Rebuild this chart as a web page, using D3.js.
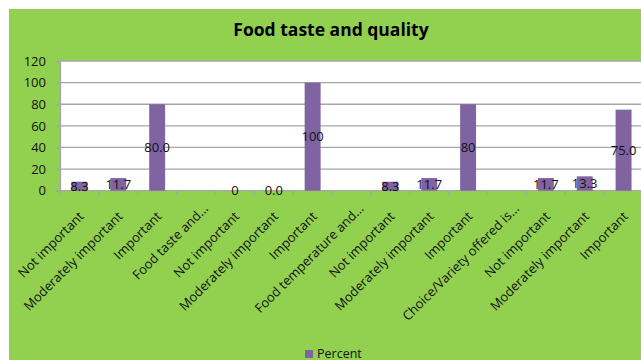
<!DOCTYPE html>
<html>
<head>
<meta charset="utf-8">
<script src="https://cdn.jsdelivr.net/npm/d3@7"></script>
<style>
  html, body { margin: 0; padding: 0; background: #fff; }
  svg { display: block; }
</style>
</head>
<body>
<div id="chart"></div>
<script>
// Categories along the x axis (as shown, truncated with "...")
const categories = [
    'Not important', 'Moderately important', 'Important', 'Food taste and...',
    'Not important', 'Moderately important', 'Important', 'Food temperature and...',
    'Not important', 'Moderately important', 'Important', 'Choice/Variety offered is...',
    'Not important', 'Moderately important', 'Important'
];
// Percent values (null = header row, no bar)
const percent = [8.3, 11.7, 80.0, null, 0, 0.0, 100, null, 8.3, 11.7, 80, null, 11.7, 13.3, 75.0];
// Data labels as printed on the chart
const valueLabels = ['8.3', '11.7', '80.0', '', '0', '0.0', '100', '', '8.3', '11.7', '80', '', '11.7', '13.3', '75.0'];
const yTicks = [0, 20, 40, 60, 80, 100, 120];
const title = 'Food taste and quality';
const seriesName = 'Percent';

const width = 641;
const height = 360;
const plot = { left: 60, right: 643, top: 61, bottom: 190.7 };
const font = '"Open Sans", "Liberation Sans", Arial, sans-serif';
const barColor = '#8064A2';
const gridColor = '#A6A6A6';

const svg = d3.select('#chart')
    .append('svg')
    .attr('width', width)
    .attr('height', height);

// Chart background
svg.append('rect')
    .attr('x', 9)
    .attr('y', 9)
    .attr('width', width)
    .attr('height', height)
    .attr('fill', '#92D050');

// Plot area
svg.append('rect')
    .attr('x', plot.left)
    .attr('y', plot.top)
    .attr('width', plot.right - plot.left)
    .attr('height', plot.bottom - plot.top)
    .attr('fill', '#fff');

const x = d3.scaleBand()
    .domain(d3.range(categories.length))
    .range([plot.left, plot.right])
    .paddingInner(0.59)
    .paddingOuter(0.295);

const y = d3.scaleLinear()
    .domain([0, 120])
    .range([plot.bottom, plot.top]);

// Gridlines
svg.append('g')
    .selectAll('line')
    .data(yTicks)
    .join('line')
    .attr('x1', plot.left)
    .attr('x2', plot.right)
    .attr('y1', d => y(d))
    .attr('y2', d => y(d))
    .attr('stroke', gridColor)
    .attr('stroke-width', 1.3);

// Y axis
const yAxis = svg.append('g')
    .attr('transform', `translate(${plot.left},0)`)
    .call(d3.axisLeft(y).tickValues(yTicks).tickSize(4).tickPadding(10));
yAxis.select('.domain').attr('stroke', gridColor).attr('stroke-width', 1.3);
yAxis.selectAll('.tick line').attr('stroke', gridColor).attr('stroke-width', 1.3);
yAxis.selectAll('.tick text')
    .attr('fill', '#111')
    .style('font-family', font)
    .style('font-size', '13px');

// X axis: tick marks between categories
const step = x.step();
svg.append('g')
    .selectAll('line')
    .data(d3.range(categories.length + 1))
    .join('line')
    .attr('x1', i => plot.left + i * step)
    .attr('x2', i => plot.left + i * step)
    .attr('y1', plot.bottom)
    .attr('y2', plot.bottom + 4)
    .attr('stroke', gridColor)
    .attr('stroke-width', 1.3);

// Bars
const barData = percent.map((v, i) => ({ i, v, label: valueLabels[i] }));
svg.append('g')
    .selectAll('rect')
    .data(barData.filter(d => d.v !== null))
    .join('rect')
    .attr('x', d => x(d.i))
    .attr('y', d => y(d.v))
    .attr('width', x.bandwidth())
    .attr('height', d => y(0) - y(d.v))
    .attr('fill', barColor);

// Data labels, centred in the bar
svg.append('g')
    .selectAll('text')
    .data(barData.filter(d => d.v !== null))
    .join('text')
    .attr('x', d => x(d.i) + x.bandwidth() / 2)
    .attr('y', d => y(d.v / 2))
    .attr('dy', '0.36em')
    .attr('text-anchor', 'middle')
    .attr('fill', '#111')
    .style('font-family', font)
    .style('font-size', '13px')
    .text(d => d.label);

// Category labels, rotated
svg.append('g')
    .selectAll('text')
    .data(categories)
    .join('text')
    .attr('transform', (d, i) => {
        const cx = x(i) + x.bandwidth() / 2;
        return `translate(${cx + 2},${214}) rotate(-45)`;
    })
    .attr('dx', d => d.endsWith('...') ? 11 : 0)
    .attr('dy', '0.35em')
    .attr('text-anchor', 'end')
    .attr('fill', '#111')
    .style('font-family', font)
    .style('font-size', '13px')
    .text(d => d);

// Title
svg.append('text')
    .attr('x', 331)
    .attr('y', 36)
    .attr('text-anchor', 'middle')
    .attr('fill', '#000')
    .style('font-family', font)
    .style('font-weight', 'bold')
    .style('font-size', '17.5px')
    .text(title);

// Legend
const legend = svg.append('g').attr('transform', 'translate(305,350)');
legend.append('rect')
    .attr('width', 8)
    .attr('height', 8)
    .attr('fill', barColor);
legend.append('text')
    .attr('x', 12)
    .attr('y', 7.5)
    .attr('fill', '#111')
    .style('font-family', font)
    .style('font-size', '12.5px')
    .text(seriesName);
</script>
</body>
</html>
